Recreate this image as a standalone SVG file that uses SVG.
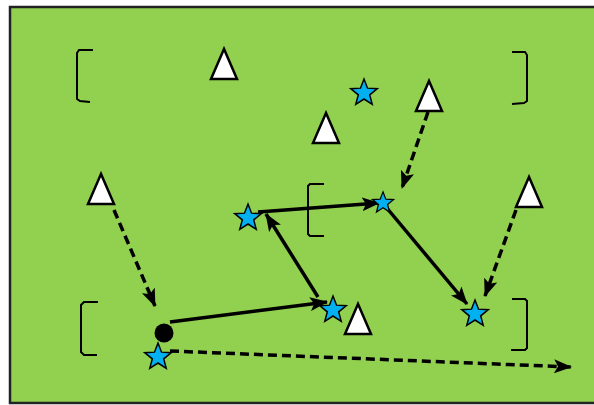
<svg xmlns="http://www.w3.org/2000/svg" xmlns:xlink="http://www.w3.org/1999/xlink" width="594" height="405" viewBox="0 0 594 405">
<defs>
<style>
.field{fill:#92D050;stroke:#222;stroke-width:2.5}
.bracket{fill:none;stroke:#000;stroke-width:2}
.cone{fill:#fff;stroke:#000;stroke-width:2.5;stroke-linejoin:miter}
.star{fill:#00B0F0;stroke:#000;stroke-width:1.5;stroke-linejoin:miter}
.run{fill:none;stroke:#000;stroke-width:3.5;marker-end:url(#ah)}
.pass{fill:none;stroke:#000;stroke-width:3.5;stroke-dasharray:9 5;marker-end:url(#ah)}
</style>
<marker id="ah" markerUnits="userSpaceOnUse" viewBox="0 0 18 14" refX="17" refY="7" markerWidth="18" markerHeight="14" orient="auto">
<path d="M0,0 L18,7 L0,14 L4,7 Z" fill="#000"/>
</marker>
<path id="starShape" class="star" d="M0,-14 L3.53,-4.85 13.31,-4.33 5.71,1.85 8.23,11.33 0,6 -8.23,11.33 -5.71,1.85 -13.31,-4.33 -3.53,-4.85Z"/>
<path id="coneShape" class="cone" d="M0,0 L-13,30 L13,30 Z"/>
</defs>
<rect class="field" x="10" y="7" width="590" height="396"/>
<g id="brackets">
<path class="bracket" d="M93,50 L79,50 L77,53 L77,99 L80,101 L90,102"/>
<path class="bracket" d="M512,52 L525,52 L527,55 L527,101 L524,103 L512,104"/>
<path class="bracket" d="M324,184 L310,184 L308,186 L308,234 L310,236 L324,236"/>
<path class="bracket" d="M98,302 L84,302 L81,305 L81,352 L84,355 L97,355"/>
<path class="bracket" d="M512,299 L525,299 L527,301 L527,348 L525,350 L511,350"/>
</g>
<g id="connectors">
<path class="run" d="M170,322 L327,302"/>
<path class="run" d="M318,297 L266,214"/>
<path class="run" d="M258,212 L379,203"/>
<path class="run" d="M386,207 L467,304"/>
<path class="pass" d="M428,112 L402,188"/>
<path class="pass" d="M516,210 L485,296"/>
<path class="pass" d="M114,210 L155,306"/>
<path class="pass" d="M170,351 L571,367"/>
</g>
<g id="cone1"><use xlink:href="#coneShape" transform="translate(224,49)"/></g>
<g id="cone2"><use xlink:href="#coneShape" transform="translate(429,81)"/></g>
<g id="cone3"><use xlink:href="#coneShape" transform="translate(326,113)"/></g>
<g id="cone4"><use xlink:href="#coneShape" transform="translate(101,174)"/></g>
<g id="cone5"><use xlink:href="#coneShape" transform="translate(529,177)"/></g>
<g id="cone6"><use xlink:href="#coneShape" transform="translate(358,304)"/></g>
<g id="star1"><use xlink:href="#starShape" transform="translate(364,93)"/></g>
<g id="star2"><use xlink:href="#starShape" transform="translate(248,218)"/></g>
<g id="star3"><use xlink:href="#starShape" transform="translate(383,203) scale(0.8)"/></g>
<g id="star4"><use xlink:href="#starShape" transform="translate(333,310)"/></g>
<g id="star5"><use xlink:href="#starShape" transform="translate(475,314)"/></g>
<g id="star6"><use xlink:href="#starShape" transform="translate(158,357)"/></g>
<g id="ball"><circle cx="164" cy="333" r="9.5" fill="#000"/></g>
</svg>
